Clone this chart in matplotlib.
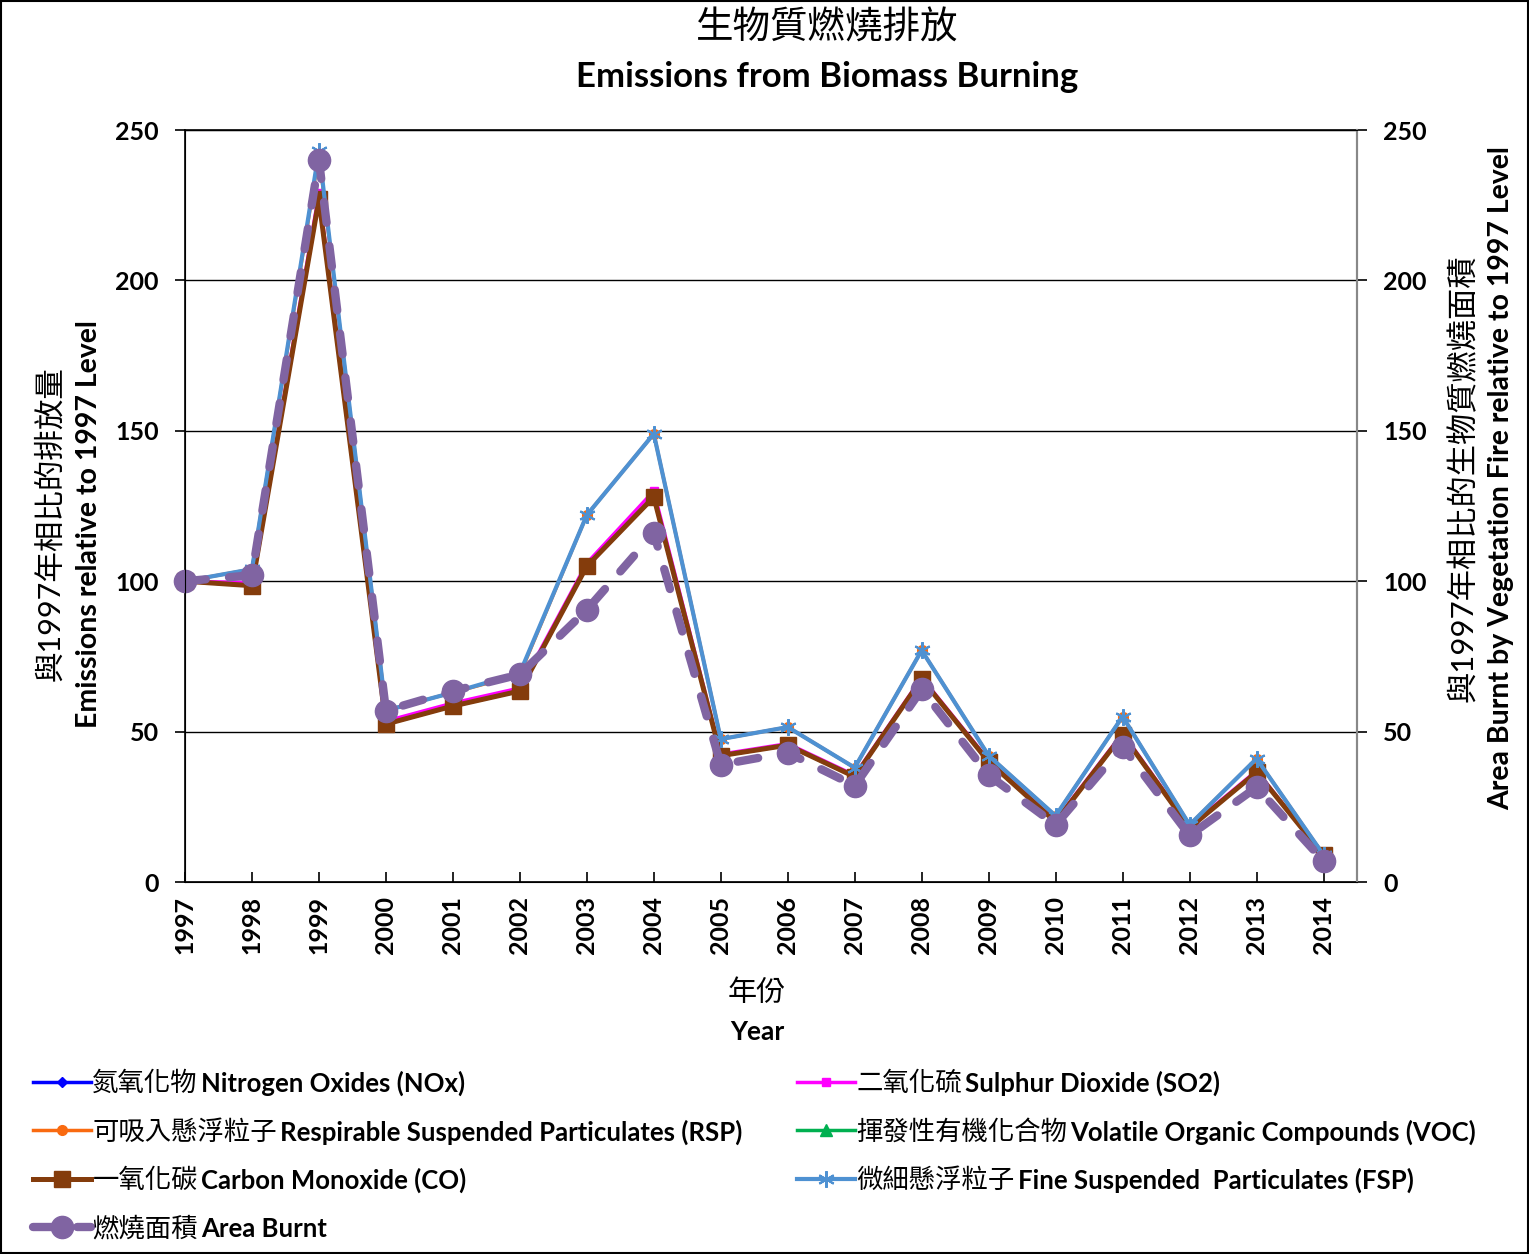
import matplotlib
matplotlib.use('Agg')
import matplotlib.pyplot as plt
from matplotlib.patches import Rectangle

plt.rcParams['font.family'] = ['Lato', 'Noto Sans CJK TC', 'DejaVu Sans']

years = list(range(1997, 2015))
nox = [100, 98.5, 227, 52.5, 58.5, 63.5, 105, 128, 42, 45.5, 35, 67.5, 40, 20, 49, 18, 36.5, 9]
so2 = [100, 99.5, 229, 53.5, 59.5, 64.5, 106, 130, 42.5, 46, 35.5, 68, 40.5, 20.5, 49.5, 18.5, 37, 9]
rsp = [100, 104, 242, 57, 63, 69, 122, 149, 47.5, 51.5, 38, 77, 42, 22, 55, 19, 41, 9]
voc = [100, 98.5, 227.5, 52.5, 58.5, 63.5, 105, 128, 42, 45.5, 35, 67.5, 40, 20, 49, 18, 36.5, 9]
co = [100, 98.5, 227, 52.5, 58.5, 63.5, 105, 128, 42, 45.5, 35, 67.5, 40, 20, 49, 18, 36.5, 9]
fsp = [100, 104, 243, 57, 63, 69.5, 122, 149, 47.5, 51.5, 38, 77, 42, 22, 55, 19, 41, 9]
area = [100, 102, 240, 57, 63.5, 69, 90.5, 116, 39, 43, 32, 64, 35.5, 19, 45, 15.5, 31.5, 7]

yticks = [0, 50, 100, 150, 200, 250]

zh_names = ['氮氧化物', '可吸入懸浮粒子', '一氧化碳', '燃燒面積',
            '二氧化硫', '揮發性有機化合物', '微細懸浮粒子']
en_names = ['Nitrogen Oxides (NOx)', 'Respirable Suspended Particulates (RSP)',
            'Carbon Monoxide (CO)', 'Area Burnt',
            'Sulphur Dioxide (SO2)', 'Volatile Organic Compounds (VOC)',
            'Fine Suspended  Particulates (FSP)']

W, H = 1529, 1254
fig = plt.figure(figsize=(W / 100, H / 100), dpi=100)
ax = fig.add_axes([185 / W, 1 - 882 / H, (1357 - 185) / W, (882 - 130) / H])

l_nox, = ax.plot(years, nox, color='#0000FF', lw=2.5, marker='D', ms=5, clip_on=False, zorder=3)
l_so2, = ax.plot(years, so2, color='#FF00FF', lw=2.5, marker='s', ms=6, clip_on=False, zorder=4)
l_rsp, = ax.plot(years, rsp, color='#F96A10', lw=2.5, marker='o', ms=7, clip_on=False, zorder=5)
l_voc, = ax.plot(years, voc, color='#00B050', lw=2.5, marker='^', ms=8, clip_on=False, zorder=6)
l_co, = ax.plot(years, co, color='#843C0C', lw=3.6, marker='s', ms=11, clip_on=False, zorder=7)
l_fsp, = ax.plot(years, fsp, color='#4E91D2', lw=3, marker=(6, 2, 0), ms=12, mew=1.5,
                 clip_on=False, zorder=8)
l_area, = ax.plot(years, area, color='#8064A2', lw=6, marker='o', ms=16,
                  dash_capstyle='round', clip_on=False, zorder=9)
l_area.set_dashes((2.5, 2.8))

ax.set_xlim(1997, 2014.5)
ax.set_ylim(0, 250)
ax.set_xticks(years)
ax.set_xticklabels([str(y) for y in years], rotation=90, fontsize=18, fontweight='bold')
ax.set_yticks(yticks)
ax.set_yticklabels([str(v) for v in yticks], fontsize=18, fontweight='bold')
ax.tick_params(axis='x', direction='in', length=7, width=1.2, pad=10)
ax.tick_params(axis='y', direction='out', length=7, width=1.2, pad=12)
ax.grid(axis='y', color='black', lw=1)
ax.set_axisbelow(True)
for s in ['left', 'bottom', 'top']:
    ax.spines[s].set_color('black')
    ax.spines[s].set_linewidth(1.2)
ax.spines['right'].set_color('#888888')
ax.spines['right'].set_linewidth(1.5)

ax2 = ax.twinx()
ax2.set_ylim(0, 250)
ax2.set_yticks(yticks)
ax2.set_yticklabels([str(v) for v in yticks], fontsize=18, fontweight='bold')
ax2.tick_params(axis='y', direction='out', length=7, width=1.2, pad=12, colors='black')
ax2.spines['right'].set_color('#888888')
ax2.spines['right'].set_linewidth(1.5)

# titles and axis labels
fig.text(827 / W, 1 - 28 / H, '生物質燃燒排放', ha='center', va='center', fontsize=27)
fig.text(827 / W, 1 - 77 / H, 'Emissions from Biomass Burning', ha='center', va='center',
         fontsize=25, fontweight='bold')
fig.text(50 / W, 1 - 524 / H, '與1997年相比的排放量', rotation=90, ha='center', va='center',
         fontsize=22)
fig.text(89 / W, 1 - 524 / H, 'Emissions relative to 1997 Level', rotation=90, ha='center',
         va='center', fontsize=20.5, fontweight='bold')
fig.text(1463 / W, 1 - 478 / H, '與1997年相比的生物質燃燒面積', rotation=90, ha='center',
         va='center', fontsize=22.5)
fig.text(1501 / W, 1 - 478 / H, 'Area Burnt by Vegetation Fire relative to 1997 Level',
         rotation=90, ha='center', va='center', fontsize=20.5, fontweight='bold')
fig.text(757 / W, 1 - 993 / H, '年份', ha='center', va='center', fontsize=21)
fig.text(757 / W, 1 - 1032 / H, 'Year', ha='center', va='center', fontsize=19, fontweight='bold')

# legend: chinese part through the legend, bold english placed after
handles = [l_nox, l_rsp, l_co, l_area, l_so2, l_voc, l_fsp]
leg_kw = dict(frameon=False, fontsize=19, handlelength=2.2, handletextpad=0.05,
              labelspacing=0.89, borderaxespad=0, borderpad=0)
leg1 = fig.legend(handles[:4], zh_names[:4], loc='upper left',
                  bbox_to_anchor=(33 / W, 1 - 1071 / H), **leg_kw)
leg2 = fig.legend(handles[4:], zh_names[4:], loc='upper left',
                  bbox_to_anchor=(797 / W, 1 - 1071 / H), **leg_kw)

fig.canvas.draw()
r = fig.canvas.get_renderer()
inv = fig.transFigure.inverted()
texts = leg1.get_texts() + leg2.get_texts()
for t, en in zip(texts, en_names):
    bb = t.get_window_extent(r)
    x, y = inv.transform((bb.x1 + 3, (bb.y0 + bb.y1) / 2))
    fig.text(x, y, en, ha='left', va='center', fontsize=18.5, fontweight='bold')

fig.patches.append(Rectangle((0.0008, 0.001), 0.9984, 0.998, transform=fig.transFigure,
                             fill=False, edgecolor='black', lw=1.5))

fig.savefig('out.png', dpi=100)
